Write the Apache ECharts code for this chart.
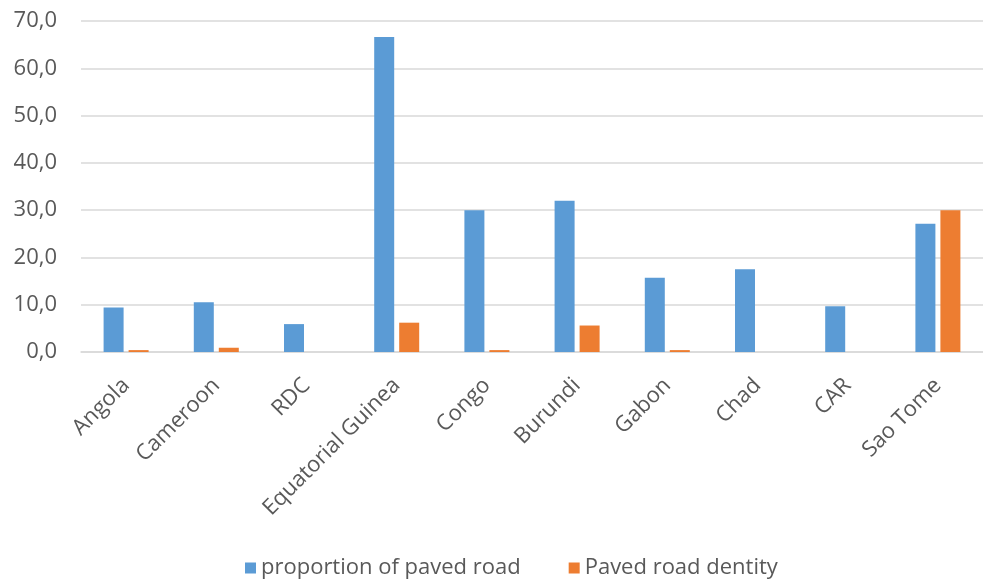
<!DOCTYPE html>
<html>
<head>
<meta charset="utf-8">
<script src="https://cdn.jsdelivr.net/npm/echarts@6/dist/echarts.min.js"></script>
<style>html,body{margin:0;padding:0;background:#fff}#c{width:983px;height:580px}</style>
</head>
<body>
<div id="c"></div>
<script>
var categories = ['Angola','Cameroon','RDC','Equatorial Guinea','Congo','Burundi','Gabon','Chad','CAR','Sao Tome'];
var proportionPaved = [9.4, 10.5, 5.9, 66.6, 30.0, 32.0, 15.7, 17.5, 9.7, 27.1];
var pavedDensity = [0.4, 0.9, 0, 6.2, 0.4, 5.6, 0.4, 0, 0, 30.0];
var seriesNames = ['proportion of paved road', 'Paved road dentity'];

var chart = echarts.init(document.getElementById('c'));
var font = 'Open Sans';
chart.setOption({
  animation: false,
  grid: { left: 81, top: 21, width: 908, height: 331, containLabel: false },
  legend: {
    bottom: -4, left: 240, itemWidth: 11, itemHeight: 11, itemGap: 48,
    icon: 'rect',
    textStyle: { color: '#595959', fontSize: 22, fontFamily: font },
    data: seriesNames
  },
  xAxis: {
    type: 'category', data: categories,
    axisLine: { lineStyle: { color: '#d9d9d9', width: 1.5 } },
    axisTick: { show: false },
    axisLabel: { rotate: 45, color: '#595959', fontSize: 22, fontFamily: font, margin: 30, interval: 0 }
  },
  yAxis: {
    type: 'value', min: 0, max: 70, interval: 10,
    axisLine: { show: false }, axisTick: { show: false },
    splitLine: { lineStyle: { color: '#d9d9d9', width: 1.5 } },
    axisLabel: { color: '#595959', fontSize: 22, fontFamily: font, margin: 24,
      formatter: function (v) { return v.toFixed(1).replace('.', ','); } }
  },
  series: [
    { name: seriesNames[0], type: 'bar', data: proportionPaved, barWidth: 20, barGap: '25%', itemStyle: { color: '#5B9BD5' } },
    { name: seriesNames[1], type: 'bar', data: pavedDensity, barWidth: 20, itemStyle: { color: '#ED7D31' } }
  ]
});
</script>
</body>
</html>
